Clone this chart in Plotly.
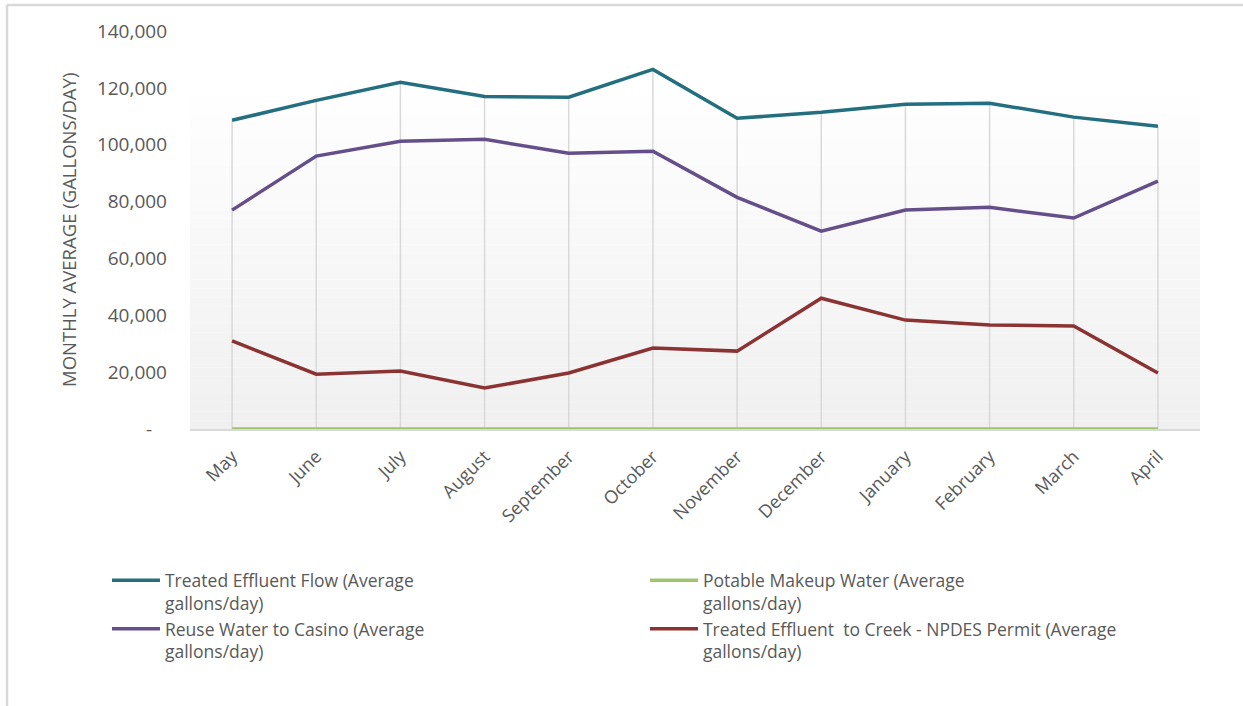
import plotly.graph_objects as go

months = ["May", "June", "July", "August", "September", "October", "November",
          "December", "January", "February", "March", "April"]
treated_effluent = [108600, 115600, 122000, 117000, 116700, 126500, 109300,
                    111400, 114200, 114600, 109700, 106500]
potable_makeup = [0, 0, 0, 0, 0, 0, 0, 0, 0, 0, 0, 0]
reuse_casino = [77000, 96000, 101200, 101900, 97000, 97700, 81500,
                69600, 77000, 78000, 74200, 87200]
effluent_creek = [31000, 19300, 20400, 14400, 19700, 28500, 27400,
                  46000, 38300, 36600, 36200, 19700]

names = ["Treated Effluent Flow (Average<br>gallons/day)",
         "Potable Makeup Water (Average<br>gallons/day)",
         "Reuse Water to Casino (Average<br>gallons/day)",
         "Treated Effluent  to Creek - NPDES Permit (Average<br>gallons/day)"]
colors = ["#236f7f", "#9fc46e", "#654f8b", "#8b3333"]
ytick_vals = [0, 20000, 40000, 60000, 80000, 100000, 120000, 140000]
ytick_text = ["-\u00a0\u00a0\u00a0", "20,000", "40,000", "60,000", "80,000",
              "100,000", "120,000", "140,000"]

FONT = "Open Sans"
GRAY = "#595959"

fig = go.Figure()

# drop lines from highest series to the axis
series = [treated_effluent, potable_makeup, reuse_casino, effluent_creek]
dx, dy = [], []
for i, m in enumerate(months):
    top = max(s[i] for s in series)
    dx += [m, m, None]
    dy += [0, top, None]
fig.add_trace(go.Scatter(x=dx, y=dy, mode="lines", showlegend=False,
                         hoverinfo="skip",
                         line=dict(color="#d9d9d9", width=1.5)))

for s, n, c in zip(series, names, colors):
    fig.add_trace(go.Scatter(x=months, y=s, name=n, mode="lines",
                             line=dict(color=c, width=3.5)))

# plot-area gradient background
shapes = []
nb = 40
top_frac = 0.882
for k in range(nb):
    y0 = top_frac * k / nb
    y1 = top_frac * (k + 1) / nb
    t = k / (nb - 1)
    v = int(round(240 + (255 - 240) * t))
    shapes.append(dict(type="rect", xref="paper", yref="paper", x0=0, x1=1,
                       y0=y0, y1=y1, fillcolor=f"rgb({v},{v},{v})",
                       line=dict(width=0), layer="below"))
# outer frame lines
shapes.append(dict(type="line", xref="paper", yref="paper", x0=-0.1812, x1=1.05,
                   y0=1.0653, y1=1.0653, line=dict(color="#d9d9d9", width=2.5)))
shapes.append(dict(type="line", xref="paper", yref="paper", x0=-0.1812, x1=-0.1812,
                   y0=1.0653, y1=-0.72, line=dict(color="#d9d9d9", width=2.5)))

fig.update_layout(
    width=1243, height=706,
    margin=dict(l=190, r=43, t=31, b=277),
    paper_bgcolor="white", plot_bgcolor="white",
    font=dict(family=FONT, size=17, color=GRAY),
    shapes=shapes,
    showlegend=True,
    legend=dict(orientation="h", x=-0.0822, y=-0.335, xanchor="left", yanchor="top",
                entrywidth=475, entrywidthmode="pixels", valign="top",
                font=dict(family=FONT, size=17.5, color=GRAY),
                traceorder="normal", itemwidth=48, bgcolor="rgba(0,0,0,0)"),
    annotations=[dict(text="MONTHLY AVERAGE (GALLONS/DAY)", xref="paper", yref="paper",
                      x=-0.1208, y=0.5, xanchor="center", yanchor="middle",
                      textangle=-90, showarrow=False,
                      font=dict(family=FONT, size=18.5, color=GRAY))],
)
fig.update_xaxes(type="category", range=[-0.5, 11.5], tickangle=-45,
                 showgrid=False, showline=True, linecolor="#d9d9d9", linewidth=2,
                 ticks="", ticklabelstandoff=8,
                 tickfont=dict(size=18, color=GRAY), zeroline=False)
fig.update_yaxes(range=[0, 140000], tickvals=ytick_vals, ticktext=ytick_text,
                 showgrid=False, zeroline=False, showline=False, ticks="",
                 ticklabelstandoff=22, tickfont=dict(size=19, color=GRAY))

fig.write_html("out.html")
